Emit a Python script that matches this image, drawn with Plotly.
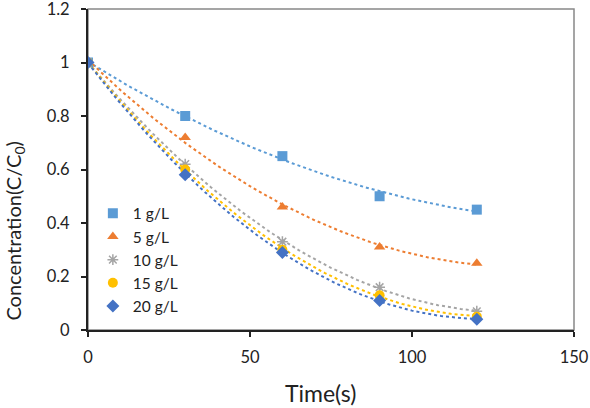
import numpy as np
import plotly.graph_objects as go

time_s = [0, 30, 60, 90, 120]
series_names = ["1 g/L", "5 g/L", "10 g/L", "15 g/L", "20 g/L"]
conc_1 = [1.0, 0.80, 0.65, 0.50, 0.45]
conc_5 = [1.0, 0.72, 0.46, 0.31, 0.25]
conc_10 = [1.0, 0.62, 0.33, 0.16, 0.07]
conc_15 = [1.0, 0.60, 0.30, 0.13, 0.05]
conc_20 = [1.0, 0.58, 0.29, 0.11, 0.04]
all_series = [conc_1, conc_5, conc_10, conc_15, conc_20]

colors = ["#5B9BD5", "#ED7D31", "#A5A5A5", "#FFC000", "#4472C4"]
symbols = ["square", "triangle-up", "asterisk-open", "circle", "diamond"]
sizes = [10, 10, 9, 10, 10]

FONT = "Lato"
TXT = "#222222"
fig = go.Figure()

# polynomial (order 2) trendlines, like the spreadsheet chart
xs = np.linspace(0, 120, 121)
for vals, col in zip(all_series, colors):
    coef = np.polyfit(time_s, vals, 2)
    fig.add_trace(go.Scatter(x=xs, y=np.polyval(coef, xs), mode="lines",
                             line=dict(color=col, width=2, dash="dot"),
                             showlegend=False, hoverinfo="skip"))

for vals, name, col, sym, sz in zip(all_series, series_names, colors, symbols, sizes):
    mk = dict(color=col, symbol=sym, size=sz)
    if sym == "asterisk-open":
        mk["line"] = dict(color=col, width=1.5)
    fig.add_trace(go.Scatter(x=time_s, y=vals, mode="markers", name=name, marker=mk))

# grey frame (top/right)
fig.add_shape(type="rect", xref="paper", yref="paper", x0=0, y0=0, x1=1, y1=1,
              line=dict(color="#888888", width=1.5), layer="below")

# axis titles
fig.add_annotation(text="Concentration(C/C<sub>0</sub>)", xref="paper", yref="paper",
                   x=-0.152, y=0.31, xanchor="center", yanchor="middle", textangle=-90,
                   showarrow=False, font=dict(size=20, family=FONT, color=TXT))
fig.add_annotation(text="Time(s)", xref="paper", yref="paper",
                   x=0.478, y=-0.195, xanchor="center", yanchor="middle",
                   showarrow=False, font=dict(size=23, family=FONT, color=TXT))

fig.update_layout(
    width=590, height=408,
    margin=dict(l=88, r=16, t=9, b=78, autoexpand=False),
    paper_bgcolor="white", plot_bgcolor="white",
    font=dict(family=FONT, size=16.5, color=TXT),
    legend=dict(x=0.01, y=0.415, xanchor="left", yanchor="top",
                bgcolor="rgba(0,0,0,0)", font=dict(size=15.5, color=TXT),
                tracegroupgap=0, itemwidth=30),
    xaxis=dict(range=[0, 150], tickvals=[0, 50, 100, 150], showgrid=False, zeroline=False,
               showline=True, linecolor=TXT, linewidth=2, automargin=False,
               ticks="outside", ticklen=5, tickcolor=TXT, tickwidth=1.5,
               ticklabelstandoff=6, ticklabeloverflow="allow"),
    yaxis=dict(range=[0, 1.2], tickvals=[0, 0.2, 0.4, 0.6, 0.8, 1.0, 1.2],
               ticktext=["0", "0.2", "0.4", "0.6", "0.8", "1", "1.2"],
               showgrid=False, zeroline=False, automargin=False,
               showline=True, linecolor=TXT, linewidth=2,
               ticks="outside", ticklen=5, tickcolor=TXT, tickwidth=1.5,
               ticklabelstandoff=8, ticklabeloverflow="allow"),
)

fig.write_html("out.html")
